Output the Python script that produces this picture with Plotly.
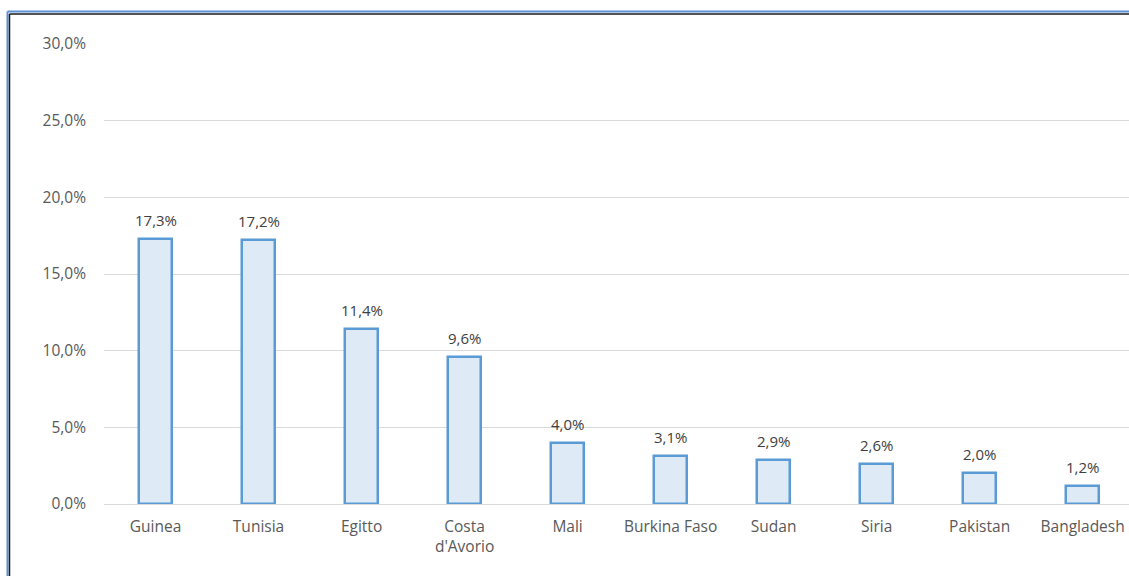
import plotly.graph_objects as go

categories = ["Guinea", "Tunisia", "Egitto", "Costa<br>d'Avorio", "Mali",
              "Burkina Faso", "Sudan", "Siria", "Pakistan", "Bangladesh"]
values = [17.3, 17.2, 11.4, 9.6, 4.0, 3.1, 2.9, 2.6, 2.0, 1.2]
y_ticks = [0, 5, 10, 15, 20, 25, 30]

W, H = 1129, 576
L, R, T, B = 104, 0, 44, 72
pw = W - L - R
ph = H - T - B

def px(x):
    return (x - L) / pw

def py(y):
    return 1 - (y - T) / ph

FONT = "Open Sans"
fig = go.Figure(go.Bar(
    x=list(range(len(categories))), y=values,
    width=0.32,
    marker=dict(color="#DEEBF7", line=dict(color="#5B9BD5", width=2.5)),
    cliponaxis=False,
    hoverinfo="skip",
))

annotations = [
    dict(x=i, y=v, xref="x", yref="y", text=f"{v:.1f}%".replace(".", ","),
         showarrow=False, yanchor="bottom", yshift=7,
         font=dict(family=FONT, size=15, color="#404040"))
    for i, v in enumerate(values)
]

fig.update_layout(
    width=W, height=H,
    margin=dict(l=L, r=R, t=T, b=B),
    paper_bgcolor="white", plot_bgcolor="white",
    showlegend=False,
    bargap=0,
    font=dict(family=FONT, size=15, color="#595959"),
    annotations=annotations,
    xaxis=dict(
        range=[-0.5, 9.45],
        tickmode="array", tickvals=list(range(len(categories))), ticktext=categories,
        showgrid=False, zeroline=False, showline=False, ticks="",
        tickfont=dict(family=FONT, size=15.5, color="#595959"),
        ticklabelstandoff=11,
    ),
    yaxis=dict(
        range=[0, 30], tickmode="array", tickvals=y_ticks,
        ticktext=[f"{v:.1f}%".replace(".", ",") for v in y_ticks],
        showgrid=True, gridcolor="#D9D9D9", gridwidth=1,
        zeroline=True, zerolinecolor="#D9D9D9", zerolinewidth=1,
        showline=False, ticks="",
        tickfont=dict(family=FONT, size=15.5, color="#595959"),
        ticklabelstandoff=17,
    ),
    shapes=[
        dict(type="line", xref="paper", yref="paper", x0=px(7.5), x1=px(1140), y0=py(11.5), y1=py(11.5),
             line=dict(color="#5B8FD6", width=2)),
        dict(type="line", xref="paper", yref="paper", x0=px(7.5), x1=px(7.5), y0=py(11.5), y1=py(590),
             line=dict(color="#5B8FD6", width=2)),
        dict(type="line", xref="paper", yref="paper", x0=px(9.5), x1=px(1140), y0=py(14), y1=py(14),
             line=dict(color="#1A1A1A", width=1.5)),
        dict(type="line", xref="paper", yref="paper", x0=px(9.5), x1=px(9.5), y0=py(14), y1=py(590),
             line=dict(color="#1A1A1A", width=1.5)),
    ],
)

fig.write_html(
    "out.html",
    config={"displayModeBar": False},
    post_script="document.body.style.margin='0';document.body.style.overflow='hidden';",
)
